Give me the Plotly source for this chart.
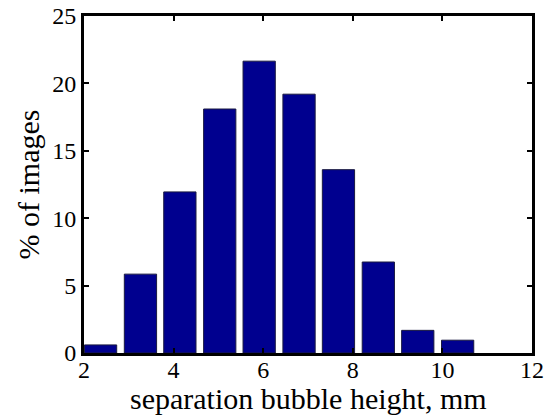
import plotly.graph_objects as go

# Data
bin_centers = [2.37, 3.26, 4.14, 5.03, 5.91, 6.80, 7.68, 8.57, 9.45, 10.34]
percent_images = [0.6, 5.85, 11.95, 18.1, 21.65, 19.2, 13.6, 6.75, 1.68, 0.95]
x_ticks = [2, 4, 6, 8, 10, 12]
y_ticks = [0, 5, 10, 15, 20, 25]
x_title = "separation bubble height, mm"
y_title = "% of images"

font_family = "Liberation Serif, Times New Roman, serif"

fig = go.Figure(
    go.Bar(
        x=bin_centers,
        y=percent_images,
        width=0.72,
        marker=dict(color="#00008F", line=dict(color="#1a1a40", width=1)),
    )
)

axis_common = dict(
    showline=True,
    linecolor="black",
    linewidth=3,
    mirror="ticks",
    ticks="inside",
    ticklen=5,
    tickwidth=2,
    tickcolor="black",
    showgrid=False,
    zeroline=False,
    automargin=False,
    tickfont=dict(family=font_family, size=24, color="black"),
)

fig.update_layout(
    width=550,
    height=417,
    margin=dict(l=84, r=18, t=16, b=64),
    paper_bgcolor="white",
    plot_bgcolor="white",
    showlegend=False,
    xaxis=dict(range=[2, 12], tickvals=x_ticks,
               ticktext=[str(v) for v in x_ticks],
               ticklabelstandoff=-7, **axis_common),
    yaxis=dict(range=[0, 25], tickvals=y_ticks,
               ticktext=[str(v) for v in y_ticks], **axis_common),
    annotations=[
        dict(text=x_title, xref="paper", yref="paper", x=0.5, y=0,
             xanchor="center", yanchor="middle", yshift=-45, showarrow=False,
             font=dict(family=font_family, size=30, color="black")),
        dict(text=y_title, xref="paper", yref="paper", x=0, y=0.5,
             xanchor="center", yanchor="middle", xshift=-56, textangle=-90,
             showarrow=False,
             font=dict(family=font_family, size=30, color="black")),
    ],
)

fig.write_html("out.html")
